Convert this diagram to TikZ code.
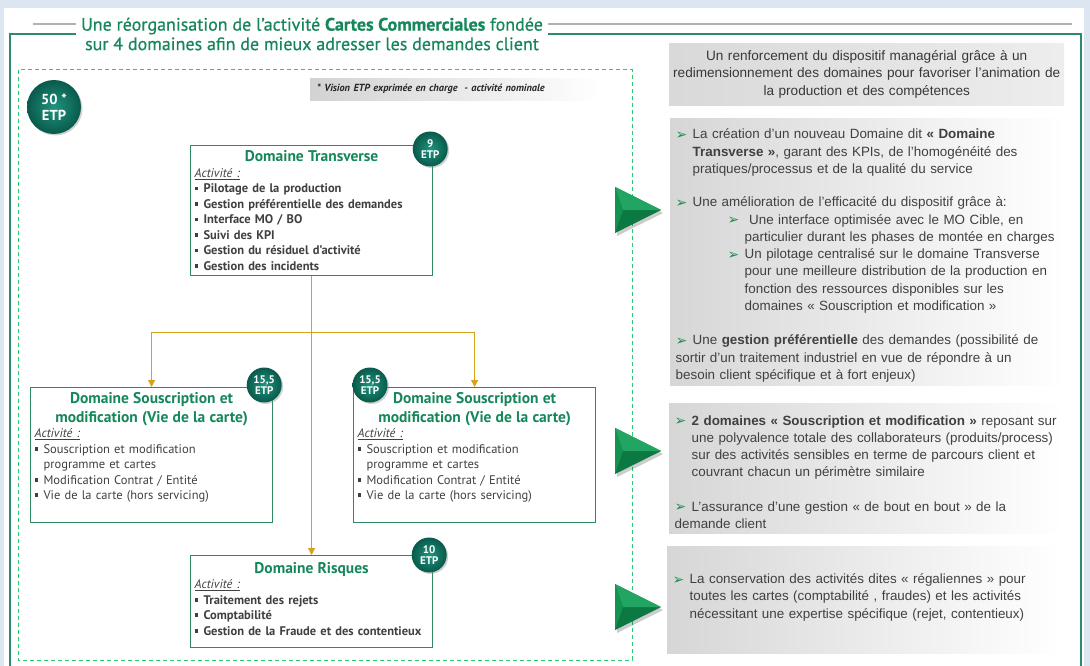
\documentclass[tikz,border=0pt]{standalone}
\usepackage{fontspec}
\setmainfont{Liberation Sans}
\newfontfamily\domfont{PT Sans}
\newfontfamily\symfont{DejaVu Sans}
\usetikzlibrary{calc, positioning, arrows.meta, shadows}
\definecolor{pageblue}{HTML}{DCE6F2}
\definecolor{framegreen}{HTML}{2E8B6B}
\definecolor{titlegreen}{HTML}{15875A}
\definecolor{dashgreen}{HTML}{2ECC71}
\definecolor{boxgreen}{HTML}{2F8A62}
\definecolor{etpdark}{HTML}{0A5A4B}
\definecolor{etplight}{HTML}{1E947E}
\definecolor{linkorange}{HTML}{D9A21B}
\definecolor{textgray}{HTML}{404040}
\definecolor{arrowgreen}{HTML}{1E8C50}
\definecolor{ptrlight}{HTML}{22A563}
\definecolor{ptrmid}{HTML}{14924F}
\definecolor{ptrdark}{HTML}{0C7842}
\newcommand\sqb{\rule[.2em]{.3em}{.3em}}
\newcommand\dtitle[1]{{\noindent\centering\color{titlegreen}\bfseries\fontsize{15.5}{19}\selectfont #1\par}}
\newcommand\act{{\noindent\mdseries\itshape\underline{Activité :}\par}}
\newcommand\itm[1]{\par\hangindent=9pt\hangafter=1\noindent\makebox[9pt][l]{\sqb}#1}
\newcommand\arr{\raisebox{-0.5pt}{\symfont\color{arrowgreen}\fontsize{14}{14}\selectfont ➢}}
\newcommand\pitem[2][0pt]{\par\leftskip=#1\hangindent=17pt\hangafter=1\noindent\makebox[17pt][l]{\arr}#2}
\tikzset{
    outerframe/.style={draw=framegreen, line width=1.3pt},
    zone/.style={draw=dashgreen, line width=1pt, dash pattern=on 4pt off 3pt},
    titlerule/.style={draw=gray!60, line width=1.2pt},
    headline/.style={fill=white, align=center, inner xsep=5pt, text=titlegreen, font=\domfont\addfontfeatures{FakeBold=0.5}\fontsize{18}{19.5}\selectfont},
    note/.style={rectangle, anchor=north west, left color=gray!35, right color=white, minimum width=290pt, minimum height=22pt, text width=276pt, inner xsep=7pt, text=black!85, font=\domfont\bfseries\itshape\fontsize{10.3}{12}\selectfont},
    dombox/.style={rectangle, anchor=north west, draw=boxgreen, line width=1.2pt, fill=white, minimum width=242pt, text width=234pt, inner xsep=4pt, inner ysep=3pt, text=textgray, execute at begin node=\raggedright, font=\domfont\fontsize{12.5}{15.5}\selectfont},
    etp/.style={circle, inner sep=0pt, minimum size=35pt, shading=radial, inner color=etplight, outer color=etpdark, text=white, align=center, font=\domfont\bfseries\fontsize{11}{11.5}\selectfont, drop shadow={opacity=0.35, shadow xshift=1.5pt, shadow yshift=-1.5pt}},
    link/.style={-{Triangle[length=7pt, width=7pt]}, draw=linkorange, line width=1.1pt},
    panel/.style={rectangle, anchor=north west, left color=gray!32, right color=white, minimum width=395pt, text width=384pt, inner xsep=5.5pt, text=textgray, execute at begin node={\raggedright\hyphenpenalty=10000\relax}, font=\fontsize{13.4}{17.3}\selectfont}
}

\begin{document}
\begin{tikzpicture}[x=1pt, y=-1pt]
    \useasboundingbox (0,0) rectangle (1090,666);
    % Fond et cadres
    \fill[pageblue] (0,0) rectangle (1090,666);
    \fill[white] (4,8) rectangle (1084,666);
    \draw[outerframe] (10,666) -- (10,34) -- (1081,34) -- (1081,666);
    \draw[zone] (18,70) rectangle (632,660);

    % Titre
    \node[headline] (head) at (312,34) {Une réorganisation de l’activité \textbf{Cartes Commerciales} fondée\\sur 4 domaines afin de mieux adresser les demandes client};
    \coordinate (ruleL) at (33,24);
    \coordinate (ruleR) at (1072,24);
    \draw[titlerule] (ruleL) -- (ruleL -| head.west);
    \draw[titlerule] (ruleR) -- (ruleR -| head.east);

    \node[etp, minimum size=54pt, font=\domfont\bfseries\fontsize{14.5}{16}\selectfont] (etpAll) at (54,107) {50 *\\ETP};
    \node[note] (note) at (310,78) {* Vision ETP exprimée en charge\ \ - activité nominale};

    % Domaines
    \node[dombox, minimum height=130pt, font=\domfont\bfseries\fontsize{12.5}{15.5}\selectfont] (trans) at (190,145) {\dtitle{Domaine Transverse}\act
        \itm{Pilotage de la production}\itm{Gestion préférentielle des demandes}\itm{Interface MO / BO}
        \itm{Suivi des KPI}\itm{Gestion du résiduel d’activité}\itm{Gestion des incidents}};
    \node[dombox, minimum height=135pt] (souscA) at (30,387) {\dtitle{Domaine Souscription et\\modification (Vie de la carte)}\act
        \itm{Souscription et modification\newline programme et cartes}\itm{Modification Contrat / Entité}
        \itm{Vie de la carte (hors servicing)}\par\vspace*{16pt}};
    \node[dombox, minimum height=135pt] (souscB) at (353,387) {\dtitle{Domaine Souscription et\\modification (Vie de la carte)}\act
        \itm{Souscription et modification\newline programme et cartes}\itm{Modification Contrat / Entité}
        \itm{Vie de la carte (hors servicing)}\par\vspace*{16pt}};
    \node[dombox, minimum height=92pt, font=\domfont\bfseries\fontsize{12.5}{15.5}\selectfont] (risq) at (190,555) {\dtitle{Domaine Risques}\act
        \itm{Traitement des rejets}\itm{Comptabilité}\itm{Gestion de la Fraude et des contentieux}\par\vspace*{6pt}};

    \node[etp] (etpT) at ([xshift=-3pt, yshift=-4pt]trans.north east) {9\\ETP};
    \node[etp] (etpA) at ([xshift=-9pt, yshift=2pt]souscA.north east) {15,5\\ETP};
    \node[etp] (etpB) at ([xshift=17pt, yshift=2pt]souscB.north west) {15,5\\ETP};
    \node[etp] (etpR) at ([xshift=-4pt]risq.north east) {10\\ETP};

    % Liens
    \coordinate (split) at ($(trans.south)+(0,56)$);
    \draw[link] (trans.south) -- (risq.north);
    \draw[link] (split) -| (souscA.north);
    \draw[link] (split) -| (souscB.north);

    % Fleches vertes
    \foreach \ty in {210,451,607} {
        \fill[black, opacity=0.2] (617,\ty-20) -- (663,\ty+3) -- (617,\ty+26) -- cycle;
        \fill[ptrdark] (615,\ty-23) -- (661,\ty) -- (615,\ty+23) -- cycle;
        \fill[ptrlight] (615,\ty-23) -- (661,\ty) -- (623,\ty) -- cycle;
        \fill[ptrmid] (615,\ty-23) -- (623,\ty) -- (615,\ty+23) -- cycle;
    }

    % Panneaux de droite
    \node[panel, left color=gray!30, right color=gray!14, minimum height=62pt, text width=390pt, inner xsep=2.5pt, text=black!78, font=\fontsize{13.6}{17.3}\selectfont] (pnlA) at (669,43)
        {\centering Un renforcement du dispositif managérial grâce à un\\redimensionnement des domaines pour favoriser l’animation de\\la production et des compétences\par};
    \node[panel, minimum height=267pt] (pnlB) at (670,118) {%
        \pitem{La création d'un nouveau Domaine dit \textbf{« Domaine}\newline\textbf{Transverse »}, garant des KPIs, de l’homogénéité des\newline pratiques/processus et de la qualité du service}
        \par\vspace{16pt}
        \pitem{Une amélioration de l’efficacité du dispositif grâce à:}
        \pitem[52pt]{\ Une interface optimisée avec le MO Cible, en\newline particulier durant les phases de montée en charges}
        \pitem[52pt]{Un pilotage centralisé sur le domaine Transverse\newline pour une meilleure distribution de la production en\newline fonction des ressources disponibles sur les\newline domaines « Souscription et modification »}
        \par\vspace{17pt}
        \pitem{Une \textbf{gestion préférentielle} des demandes (possibilité de\newline sortir d’un traitement industriel en vue de répondre à un\newline besoin client spécifique et à fort enjeux)}};
    \node[panel, minimum height=130pt] (pnlC) at (669,403) {%
        \pitem{\textbf{2 domaines « Souscription et modification »} reposant sur\newline une polyvalence totale des collaborateurs (produits/process)\newline sur des activités sensibles en terme de parcours client et\newline couvrant chacun un périmètre similaire}
        \par\vspace{17pt}
        \pitem{L’assurance d’une gestion « de bout en bout\ » de la\newline demande client}};
    \node[panel, minimum height=107pt] (pnlD) at (667,546) {%
        \pitem{La conservation des activités dites « régaliennes » pour\newline toutes les cartes (comptabilité , fraudes) et les activités\newline nécessitant une expertise spécifique (rejet, contentieux)}\par\vspace*{12pt}};
\end{tikzpicture}
\end{document}
